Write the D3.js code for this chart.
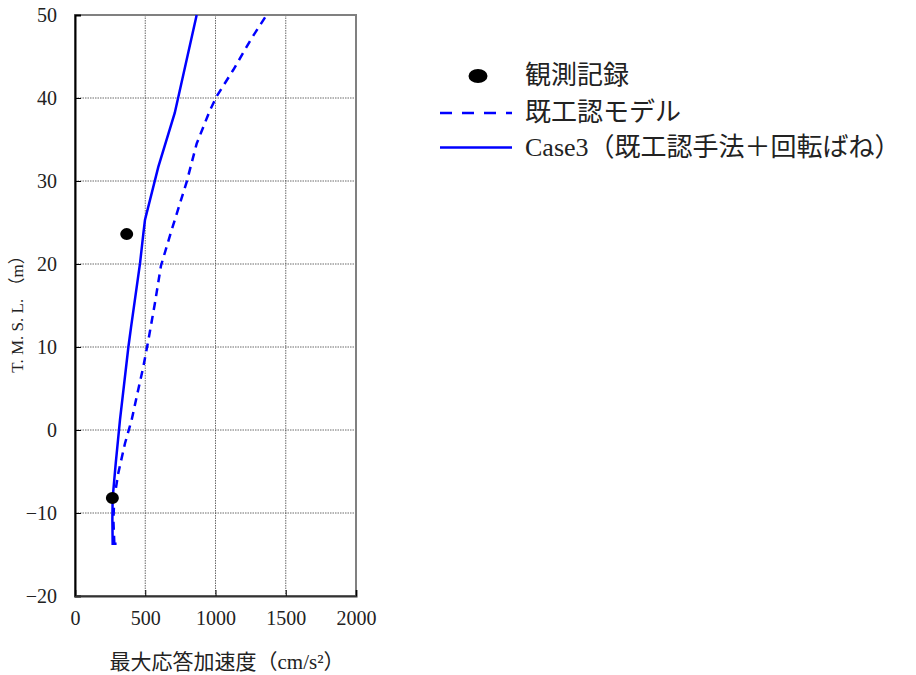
<!DOCTYPE html>
<html><head><meta charset="utf-8">
<script src="https://cdn.jsdelivr.net/npm/d3@7"></script>
<style>body{margin:0;background:#fff}</style>
</head><body><svg id="c" width="916" height="675"></svg>
<script>
const xTicks = [0, 500, 1000, 1500, 2000];
const yTicks = [-20, -10, 0, 10, 20, 30, 40, 50];
const obsAcc = [368, 266];
const obsElev = [23.6, -8.2];
const modelAcc = [280, 273, 280, 308, 356, 403, 439, 486, 522, 569, 612, 688, 795, 866, 960, 1008, 1127, 1257, 1364];
const modelElev = [-13.7, -10.8, -8.2, -5.2, -1.6, 1.2, 4.0, 7.6, 10.8, 15.3, 19.8, 24.1, 29.9, 34.5, 38.5, 40.2, 43.4, 47.2, 50];
const caseAcc = [296, 268, 266, 268, 290, 320, 380, 399, 463, 486, 498, 593, 710, 866];
const caseElev = [-13.7, -13.7, -10.8, -8.2, -4.0, 1.2, 10, 12.4, 20.1, 23.6, 25.3, 31.7, 38.2, 50];
const legendLabels = ["観測記録", "既工認モデル", "Case3（既工認手法＋回転ばね）"];
const xLabel = "最大応答加速度（cm/s²）";
const yLabel = "T. M. S. L. （m）";

const svg = d3.select("#c");
const font = "'Liberation Serif','Noto Sans CJK JP',serif";
const L = 75, R = 356, T = 15, B = 596;
const x = d3.scaleLinear().domain([0, 2000]).range([L, R]);
const y = d3.scaleLinear().domain([-20, 50]).range([B, T]);

// grid
const g = svg.append("g");
g.selectAll(".gx").data(xTicks.slice(1, -1)).enter().append("line")
  .attr("x1", d => x(d)).attr("x2", d => x(d)).attr("y1", T).attr("y2", B)
  .attr("stroke", "#444").attr("stroke-width", 0.8).attr("stroke-dasharray", "1.5,1");
g.selectAll(".gy").data(yTicks.slice(1, -1)).enter().append("line")
  .attr("x1", L).attr("x2", R).attr("y1", d => y(d)).attr("y2", d => y(d))
  .attr("stroke", "#444").attr("stroke-width", 0.8).attr("stroke-dasharray", "1.5,1");

// frame
svg.append("rect").attr("x", L).attr("y", T).attr("width", R - L).attr("height", B - T)
  .attr("fill", "none").attr("stroke", "#808080").attr("stroke-width", 2);

// axes
const yAxis = d3.axisLeft(y).tickValues(yTicks).tickSize(-6).tickPadding(18)
  .tickFormat(d => d < 0 ? "−" + Math.abs(d) : String(d));
const ya = svg.append("g").attr("transform", `translate(${L},0)`).call(yAxis);
ya.select(".domain").attr("stroke", "#000").attr("stroke-width", 2);
ya.selectAll("text").attr("font-family", font).attr("font-size", 20).attr("fill", "#222");
const xAxis = d3.axisBottom(x).tickValues(xTicks).tickSize(-6).tickPadding(15).tickFormat(d3.format("d"));
const xa = svg.append("g").attr("transform", `translate(0,${B})`).call(xAxis);
xa.select(".domain").attr("stroke", "#333").attr("stroke-width", 2);
xa.selectAll("text").attr("font-family", font).attr("font-size", 20).attr("fill", "#222");

// lines
const line = d3.line();
const modelPts = modelAcc.map((a, i) => [x(a), y(modelElev[i])]);
const casePts = caseAcc.map((a, i) => [x(a), y(caseElev[i])]);
svg.append("path").attr("d", line(modelPts)).attr("fill", "none")
  .attr("stroke", "#0000ff").attr("stroke-width", 2.5).attr("stroke-dasharray", "8,6");
svg.append("path").attr("d", line(casePts)).attr("fill", "none")
  .attr("stroke", "#0000ff").attr("stroke-width", 2.5);

// observations
svg.selectAll(".obs").data(obsAcc).enter().append("ellipse")
  .attr("cx", d => x(d)).attr("cy", (d, i) => y(obsElev[i])).attr("rx", 6.5).attr("ry", 6)
  .attr("fill", "#000");

// axis labels
svg.append("text").attr("x", 227).attr("y", 662).attr("dy", "0.35em").attr("text-anchor", "middle")
  .attr("font-family", font).attr("font-size", 21).attr("fill", "#222").text(xLabel);
svg.append("text").attr("transform", "translate(17,310) rotate(-90)").attr("dy", "0.35em")
  .attr("text-anchor", "middle")
  .attr("font-family", font).attr("font-size", 17).attr("fill", "#222").text(yLabel);

// legend
const lg = svg.append("g");
lg.append("ellipse").attr("cx", 478).attr("cy", 76).attr("rx", 9.5).attr("ry", 7).attr("fill", "#000");
lg.append("line").attr("x1", 440).attr("x2", 512).attr("y1", 113).attr("y2", 113)
  .attr("stroke", "#0000ff").attr("stroke-width", 2.5).attr("stroke-dasharray", "12,10");
lg.append("line").attr("x1", 440).attr("x2", 512).attr("y1", 147.5).attr("y2", 147.5)
  .attr("stroke", "#0000ff").attr("stroke-width", 2.5);
lg.selectAll("text").data(legendLabels).enter().append("text")
  .attr("x", 525).attr("y", (d, i) => [75, 112, 147][i]).attr("dy", "0.35em")
  .attr("font-family", font).attr("font-size", 26).attr("fill", "#222").text(d => d);
</script></body></html>
